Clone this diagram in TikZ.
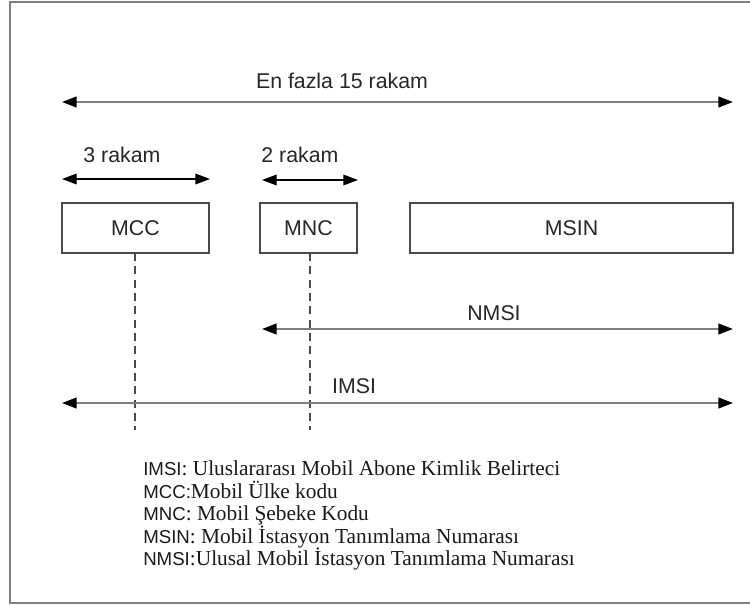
\documentclass[tikz,border=0pt]{standalone}
\usepackage{fontspec}
\setmainfont{Liberation Serif}
\setsansfont{Liberation Sans}
\usetikzlibrary{arrows.meta}
\definecolor{linegray}{HTML}{7F7F7F}
\definecolor{boxgray}{HTML}{4A4A4A}
\newcommand{\abbr}[1]{{\sffamily\fontsize{14}{16}\selectfont #1}}
\tikzset{
  span/.style={draw=linegray, line width=1.6pt,
    {Triangle[length=11pt,width=8pt,color=black]}-{Triangle[length=11pt,width=8pt,color=black]}},
  fieldbox/.style={draw=boxgray, line width=1.1pt, minimum height=37.5pt,
    inner sep=0pt, font=\sffamily\fontsize{16}{19}\selectfont, text=black!85},
  spanlabel/.style={anchor=base, inner sep=0pt, font=\sffamily\fontsize{16}{19}\selectfont, text=black!85},
  guide/.style={draw=boxgray, line width=1pt, dash pattern=on 6pt off 4pt},
  legend/.style={anchor=base west, inner sep=0pt, font=\fontsize{16}{18}\selectfont, text=black!90},
}
\begin{document}
\begin{tikzpicture}[x=0.75pt, y=-0.75pt]
\useasboundingbox (0,0) rectangle (750,605);
% outer frame
\draw[linegray, line width=1.5pt] (750,2) -- (10,2) -- (10,603) -- (750,603);

% total length
\coordinate (t1) at (62,102);
\coordinate (t2) at (733,102);
\draw[span] (t1) -- (t2);
\node[spanlabel] (ltot) at (342,89) {En fazla 15 rakam};

% MCC length
\coordinate (c1) at (62,179);
\coordinate (c2) at (210,179);
\draw[span, draw=black, line width=1pt] (c1) -- (c2);
\node[spanlabel] (lmcc) at (122,163) {3 rakam};

% MNC length
\coordinate (n1) at (262,180);
\coordinate (n2) at (358,180);
\draw[span, draw=black, line width=1pt] (n1) -- (n2);
\node[spanlabel] (lmnc) at (300,163) {2 rakam};

% fields
\node[fieldbox, minimum width=110.25pt] (mcc) at (135.5,228) {MCC};
\node[fieldbox, minimum width=72.75pt] (mnc) at (308.5,228) {MNC};
\node[fieldbox, minimum width=242.25pt] (msin) at (571.5,228) {MSIN};

% guides
\coordinate (gm) at (135,430);
\coordinate (gn) at (310,430);
\draw[guide] (135,253) -- (gm);
\draw[guide] (310,253) -- (gn);

% NMSI
\coordinate (s1) at (262,329);
\coordinate (s2) at (733,329);
\draw[span] (s1) -- (s2);
\node[spanlabel] (lnmsi) at (494,321) {NMSI};

% IMSI
\coordinate (i1) at (62,403);
\coordinate (i2) at (733,403);
\draw[span] (i1) -- (i2);
\node[spanlabel] (limsi) at (354,394) {IMSI};

% legend
\node[legend] (k1) at (143,476) {\abbr{IMSI}: Uluslararası Mobil Abone Kimlik Belirteci};
\node[legend] (k2) at (143,498.5) {\abbr{MCC:}Mobil Ülke kodu};
\node[legend] (k3) at (143,521) {\abbr{MNC}: Mobil Şebeke Kodu};
\node[legend] (k4) at (143,543.5) {\abbr{MSIN}: Mobil İstasyon Tanımlama Numarası};
\node[legend] (k5) at (143,566) {\abbr{NMSI}:Ulusal Mobil İstasyon Tanımlama Numarası};
\end{tikzpicture}
\end{document}
